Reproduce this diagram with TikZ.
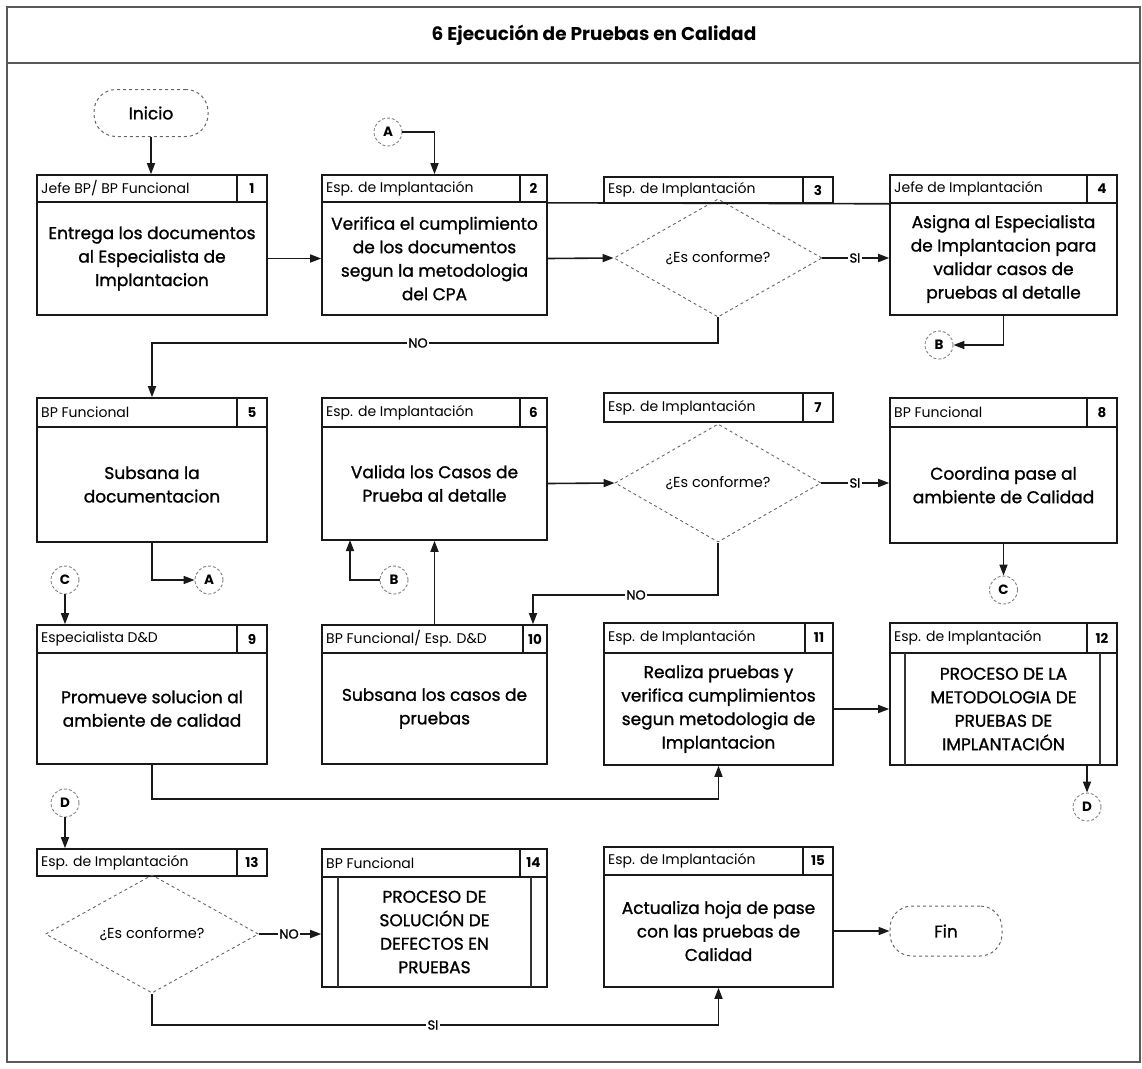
\documentclass[tikz,border=0pt]{standalone}
\usepackage{fontspec}
\setmainfont{Poppins}
\newfontfamily\heavyfont{Poppins}[FakeBold=1.2]
\usetikzlibrary{arrows.meta,shapes.geometric,fit,calc}

\tikzset{
  x=1pt, y=-1pt,
  boxline/.style={line width=1.6pt, draw=black!90},
  frameline/.style={line width=1.3pt, draw=black!65},
  hdrframe/.style={boxline, rectangle, inner sep=0pt},
  bodyframe/.style={boxline, rectangle, inner sep=0pt},
  innerline/.style={line width=1.1pt, draw=black!80},
  roletext/.style={font=\fontsize{14}{16}\selectfont, inner sep=0pt},
  numtext/.style={font=\fontsize{13.5}{15}\selectfont\bfseries, inner sep=0pt},
  bodytext/.style={font=\heavyfont\fontsize{17}{23.5}\selectfont, align=center, inner sep=0pt},
  decision/.style={diamond, draw=black!60, dashed, line width=0.9pt, inner sep=0pt,
    font=\fontsize{14.5}{16}\selectfont},
  terminal/.style={rectangle, rounded corners=22pt, draw=black!60, dashed, line width=1pt,
    inner sep=0pt, font=\heavyfont\fontsize{17}{20}\selectfont},
  conn/.style={circle, draw=black!50, densely dashed, line width=0.9pt, minimum size=28pt,
    inner sep=0pt, font=\fontsize{13.5}{15}\selectfont\bfseries},
  flow/.style={line width=1.6pt, draw=black!90},
  arr/.style={flow, -{Triangle[length=11pt,width=8pt]}},
  lbl/.style={fill=white, inner sep=1.5pt, font=\heavyfont\fontsize{13}{15}\selectfont},
}

% header strip: name, left, right, top, bottom, divider, role, number
\newcommand\taskhead[8]{%
  \node[hdrframe, fit={(#2,#4)(#3,#5)}] (#1-h) {};
  \draw[boxline] (#6,#4) -- (#6,#5);
  \node[roletext, anchor=west] (#1-r) at ({#2+4},{(#4+#5)/2}) {#7};
  \node[numtext] (#1-n) at ({(#6+#3)/2},{(#4+#5)/2}) {#8};
}
% body of a task: name, left, right, top, bottom, text
\newcommand\taskbody[6]{%
  \node[bodyframe, fit={(#2,#4)(#3,#5)}] (#1) {};
  \node[bodytext] (#1-t) at (#1.center) {#6};
}

\begin{document}
\begin{tikzpicture}
\useasboundingbox (0,0) rectangle (1142,1068);

% outer frame and title bar
\draw[frameline] (7,7) rectangle (1140,1062);
\draw[frameline] (7,63) -- (1140,63);
\node[font=\fontsize{18.5}{22}\selectfont\bfseries] (title) at (594,35)
  {6 Ejecución de Pruebas en Calidad};

% ---------------- row 1 ----------------
\node[terminal, minimum width=114pt, minimum height=47pt] (ini) at (151,113) {Inicio};

\taskhead{b1}{37}{267}{175}{202}{237}{Jefe BP/ BP Funcional}{1}
\taskbody{b1}{37}{267}{202}{315}{Entrega los documentos\\al Especialista de\\Implantacion}

\taskhead{b2}{322}{547}{175}{202}{520}{Esp. de Implantación}{2}
\taskbody{b2}{322}{547}{202}{315}{Verifica el cumplimiento\\de los documentos\\segun la metodologia\\del CPA}

\taskhead{b3}{604}{833}{177}{203}{803}{Esp. de Implantación}{3}
\node[decision, minimum width=208pt, minimum height=94pt] (d3) at (718,258) {¿Es conforme?};

\taskhead{b4}{890}{1117}{175}{203}{1087}{Jefe de Implantación}{4}
\taskbody{b4}{890}{1117}{203}{315}{Asigna al Especialista\\de Implantacion para\\validar casos de\\pruebas al detalle}

\draw[boxline] (b2-h.south east) -- (b4-h.south west);

\node[conn] (cA1) at (388,132) {A};
\node[conn] (cB1) at (939,345) {B};

% ---------------- row 2 ----------------
\taskhead{b5}{37}{267}{398}{427}{237}{BP Funcional}{5}
\taskbody{b5}{37}{267}{427}{542}{Subsana la\\documentacion}

\taskhead{b6}{322}{547}{398}{427}{520}{Esp. de Implantación}{6}
\taskbody{b6}{322}{547}{427}{540}{Valida los Casos de\\Prueba al detalle}

\taskhead{b7}{604}{833}{393}{422}{803}{Esp. de Implantación}{7}
\node[decision, minimum width=206pt, minimum height=115pt] (d7) at (718,483) {¿Es conforme?};

\taskhead{b8}{890}{1117}{398}{427}{1087}{BP Funcional}{8}
\taskbody{b8}{890}{1117}{427}{543}{Coordina pase al\\ambiente de Calidad}

\node[conn] (cA2) at (209,580) {A};
\node[conn] (cC1) at (65,580) {C};
\node[conn] (cB2) at (394,580) {B};
\node[conn] (cC2) at (1003.5,590) {C};

% ---------------- row 3 ----------------
\taskhead{b9}{37}{267}{625}{653}{237}{Especialista D\&D}{9}
\taskbody{b9}{37}{267}{653}{764}{Promueve solucion al\\ambiente de calidad}

\taskhead{b10}{322}{547}{625}{653}{523}{BP Funcional/ Esp. D\&D}{10}
\taskbody{b10}{322}{547}{653}{764}{Subsana los casos de\\pruebas}

\taskhead{b11}{604}{833}{623}{653}{805}{Esp. de Implantación}{11}
\taskbody{b11}{604}{833}{653}{765}{Realiza pruebas y\\verifica cumplimientos\\segun metodologia de\\Implantacion}

\taskhead{b12}{890}{1117}{623}{653}{1087}{Esp. de Implantación}{12}
\taskbody{b12}{890}{1117}{653}{765}{PROCESO DE LA\\METODOLOGIA DE\\PRUEBAS DE\\IMPLANTACIÓN}
\draw[innerline] (905,653) -- (905,765);
\draw[innerline] (1100,653) -- (1100,765);

\node[conn] (cD1) at (1087,807) {D};
\node[conn] (cD2) at (65,803) {D};

% ---------------- row 4 ----------------
\taskhead{b13}{37}{267}{849}{876}{237}{Esp. de Implantación}{13}
\node[decision, minimum width=213pt, minimum height=105pt] (d13) at (152,934) {¿Es conforme?};

\taskhead{b14}{322}{547}{849}{877}{520}{BP Funcional}{14}
\taskbody{b14}{322}{547}{877}{987}{PROCESO DE\\SOLUCIÓN DE\\DEFECTOS EN\\PRUEBAS}
\draw[innerline] (338,877) -- (338,987);
\draw[innerline] (531,877) -- (531,987);

\taskhead{b15}{604}{833}{847}{875}{803}{Esp. de Implantación}{15}
\taskbody{b15}{604}{833}{875}{987}{Actualiza hoja de pase\\con las pruebas de\\Calidad}

\node[terminal, minimum width=112pt, minimum height=50pt] (fin) at (946,931) {Fin};

% ---------------- connectors ----------------
\coordinate (no1) at (152,343);
\coordinate (b6in) at (350,540);
\coordinate (no2) at (533,595);
\coordinate (j1) at (152,799);
\coordinate (j2) at (152,1025);

\draw[arr] (ini.south) -- (ini.south |- b1-h.north);
\draw[arr] (cA1.east) -| (b2-h.north);
\draw[arr] (b1.east) -- (b2.west);
\draw[arr] (b2.east) -- (d3.west);
\draw[arr] (d3.east) -- (d3.east -| b4.west);
\draw[arr] (b4.south) |- (cB1.east);
\draw[arr] (d3.south) |- (no1) -- (no1 |- b5-h.north);

\draw[arr] (b5.south) |- (cA2.west);
\draw[arr] (cC1.south) -- (cC1.south |- b9-h.north);
\draw[arr] (cB2.west) -| (b6in);
\draw[arr] (b10-h.north) -- (b10-h.north |- b6.south);
\draw[arr] (b6.east) -- (d7.west);
\draw[arr] (d7.east) -- (d7.east -| b8.west);
\draw[arr] (b8.south) -- (cC2.north);
\draw[arr] (d7.south) |- (no2) -- (no2 |- b10-h.north);

\draw[arr] (b9.south) -- (j1) -| (b11.south);
\draw[arr] (b11.east) -- (b11.east -| b12.west);
\draw[arr] (cD1.north |- b12.south) -- (cD1.north);
\draw[arr] (cD2.south) -- (cD2.south |- b13-h.north);

\draw[arr] (d13.east) -- (d13.east -| b14.west);
\draw[arr] (d13.south) -- (j2) -| (b15.south);
\draw[arr] (b15.east) -- (b15.east -| fin.west);

% branch labels
\node[lbl] (l1) at (418,343) {NO};
\node[lbl] (l2) at (855,258) {SI};
\node[lbl] (l3) at (855,483) {SI};
\node[lbl] (l4) at (636,595) {NO};
\node[lbl] (l5) at (289,934) {NO};
\node[lbl] (l6) at (433,1025) {SI};
\end{tikzpicture}
\end{document}
